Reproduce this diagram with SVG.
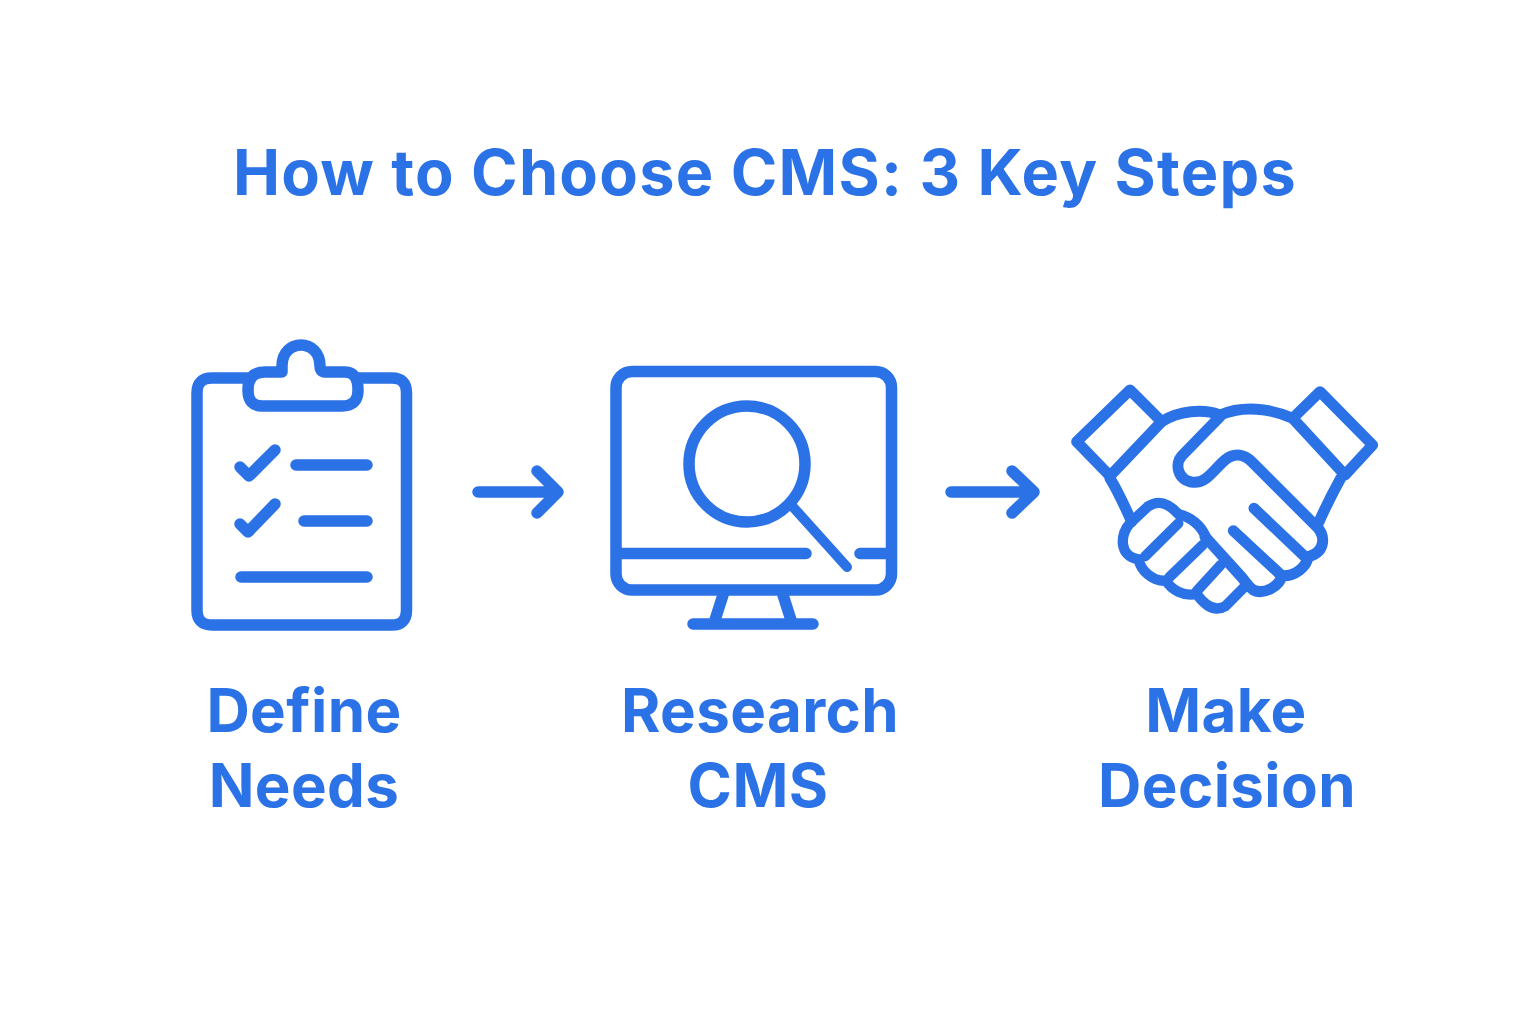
<svg xmlns="http://www.w3.org/2000/svg" width="1536" height="1024" viewBox="0 0 1536 1024">
<style>
.t{font-family:Inter,"Liberation Sans",sans-serif;font-weight:700;fill:#2b72e6;text-anchor:middle}
.s{fill:none;stroke:#2b72e6;stroke-linecap:round;stroke-linejoin:round}
.title{font-size:63px;letter-spacing:1.250px}.lab{font-size:60px;letter-spacing:.4px}
</style>
<rect width="1536" height="1024" fill="#fff"/>
<text id="title" class="t title" x="765" y="195">How to Choose CMS: 3 Key Steps</text>
<g id="connectors">
<path class="s" stroke-width="11.500" d="M478 492H557M537 471L558 492L537 513"/>
<path class="s" stroke-width="11.500" d="M951 492H1033M1012 471L1034 492L1012 513"/>
</g>
<g id="step1">
<path class="s" stroke-width="11.500" d="M248 378H212Q197 378 197 393V610Q197 625 212 625H392Q406.500 625 406.500 610V393Q406.500 378 392 378H359"/>
<path class="s" stroke-width="11.500" d="M282 372V366C282 338 320 338 320 366C320 369 321 372 325 372H345Q358 372 358 390Q358 406 342 406H262Q248 406 248 390Q248 372 265 372H282Z"/>
<path class="s" stroke-width="11.500" d="M240 467L249 476L275 450M240 524L248 532L275 504M296 465H367M304 521H367M241 577H367"/>
<text class="t lab" x="304" y="732">Define</text>
<text class="t lab" x="304" y="807">Needs</text>
</g>
<g id="step2">
<rect class="s" stroke-width="11.500" x="616" y="371.500" width="275.500" height="218.500" rx="16"/>
<circle class="s" stroke-width="11.500" cx="747" cy="464" r="58"/>
<path class="s" stroke-width="10" d="M793 507L847 567"/>
<path class="s" stroke-width="11.500" d="M618 553.500H806M860 553.500H889M723 595L715 620M783 595L791 620M693 624H813"/>
<text class="t lab" x="760" y="732">Research</text>
<text class="t lab" x="758" y="807">CMS</text>
</g>
<g id="step3">
<g transform="translate(1050 370) scale(.3333)">
<path class="s" stroke-width="33" d="M240 60L80 215L180 318L335 155ZM810 65L968 225L885 315L728 145Z"/>
<path class="s" stroke-width="33" d="M335 155C385 122 460 115 510 135C580 105 660 115 728 145"/>
<path class="s" stroke-width="33" d="M510 140L395 258C375 280 380 330 430 337C470 340 490 300 525 270C555 245 585 255 605 275L800 470C825 495 830 545 775 560C770 590 735 620 695 617C690 650 640 675 610 660C595 650 590 640 578 625L465 500"/>
<path class="s" stroke-width="33" d="M180 325C205 365 225 410 245 455M872 325C850 365 825 415 805 460"/>
<path class="s" stroke-width="33" d="M612 415L765 560M550 482L695 617"/>
<path class="s" stroke-width="31" d="M240 460C210 490 205 560 266 568C272 603 310 635 348 632C365 660 400 680 440 672C460 700 490 730 527 708L582 652M240 460L293 410C330 385 360 405 385 432C422 442 452 465 467 500"/>
<path class="s" stroke-width="31" d="M285 559L385 460M358 622L458 525M440 664L512 585"/>
</g>
<text class="t lab" x="1226" y="732">Make</text>
<text class="t lab" x="1227" y="807">Decision</text>
</g>
</svg>
